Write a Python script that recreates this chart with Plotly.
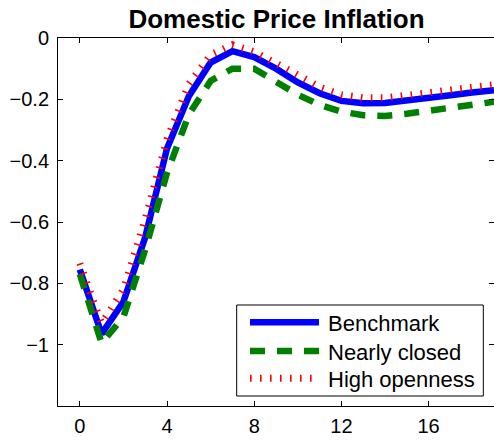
import plotly.graph_objects as go

# ---- data ----
t = list(range(0, 20))
benchmark = [-0.755, -0.965, -0.86, -0.65, -0.36, -0.19, -0.08, -0.043, -0.062, -0.10,
             -0.145, -0.18, -0.205, -0.213, -0.212, -0.205, -0.196, -0.187, -0.178, -0.17]
nearly_closed = [-0.77, -0.995, -0.91, -0.69, -0.44, -0.25, -0.14, -0.10, -0.10, -0.14,
                 -0.185, -0.218, -0.24, -0.252, -0.254, -0.247, -0.238, -0.228, -0.218, -0.208]
high_openness = [-0.735, -0.93, -0.82, -0.59, -0.33, -0.15, -0.055, -0.022, -0.045, -0.08,
                 -0.12, -0.16, -0.185, -0.195, -0.195, -0.187, -0.178, -0.17, -0.16, -0.152]
series_names = ["Benchmark", "Nearly closed", "High openness"]
x_ticks = [0, 4, 8, 12, 16]
y_ticks = [0, -0.2, -0.4, -0.6, -0.8, -1]
y_ticklabels = ["0", "\u22120.2", "\u22120.4", "\u22120.6", "\u22120.8", "\u22121"]
title_text = "Domestic Price Inflation"

FONT = "Liberation Sans, Arial, Helvetica, sans-serif"
styles = [
    dict(color="#0000ff", width=6.5, dash="solid"),
    dict(color="#008000", width=6.5, dash="15px,12px"),
    dict(color="#ff0000", width=7, dash="1.6px,8.4px"),
]
data = [benchmark, nearly_closed, high_openness]

fig = go.Figure()
for name, ys, st in zip(series_names, data, styles):
    fig.add_trace(go.Scatter(x=t, y=ys, mode="lines", name=name, line=st,
                             showlegend=False, hoverinfo="skip"))

axis_common = dict(showline=True, linecolor="black", linewidth=1, ticks="inside",
                   ticklen=5, tickcolor="black", tickwidth=1, showgrid=False,
                   zeroline=False, mirror="ticks", automargin=False,
                   tickfont=dict(family=FONT, size=20, color="black"))
fig.update_xaxes(range=[-1, 19], tickvals=x_ticks, ticklabelstandoff=2, **axis_common)
fig.update_yaxes(range=[-1.2, 0], tickvals=y_ticks, ticktext=y_ticklabels,
                 ticklabelstandoff=4, **axis_common)

# legend drawn manually to reproduce long line samples
W, H = 494, 443
L, R, T, B = 58, 0, 38, 37
pw, ph = W - L - R, H - T - B
def px(xp):
    return (xp - L) / pw
def py(yp):
    return (H - B - yp) / ph

shapes = [dict(type="rect", xref="paper", yref="paper", x0=px(236.7), x1=px(483.3),
               y0=py(396), y1=py(305), fillcolor="white",
               line=dict(color="black", width=1), layer="above")]
annotations = []
rows = [322.3, 351, 378.3]
for name, st, ry in zip(series_names, styles, rows):
    shapes.append(dict(type="line", xref="paper", yref="paper", x0=px(250), x1=px(319),
                       y0=py(ry), y1=py(ry), line=st, layer="above"))
    annotations.append(dict(text=name, xref="paper", yref="paper", x=px(326), y=py(ry + 1),
                            xanchor="left", yanchor="middle", showarrow=False,
                            font=dict(family=FONT, size=22, color="black")))

fig.update_layout(
    width=W, height=H,
    margin=dict(l=L, r=R, t=T, b=B),
    paper_bgcolor="white", plot_bgcolor="white",
    title=dict(text="<b>" + title_text + "</b>", x=(L + 218.5) / W, xanchor="center",
               y=(H - 19) / H, yanchor="middle",
               font=dict(family=FONT, size=26, color="black")),
    shapes=shapes, annotations=annotations,
    showlegend=False, hovermode=False,
)
fig.write_html("out.html", config={"displayModeBar": False},
               post_script="document.body.style.margin='0';document.body.style.overflow='hidden';")
